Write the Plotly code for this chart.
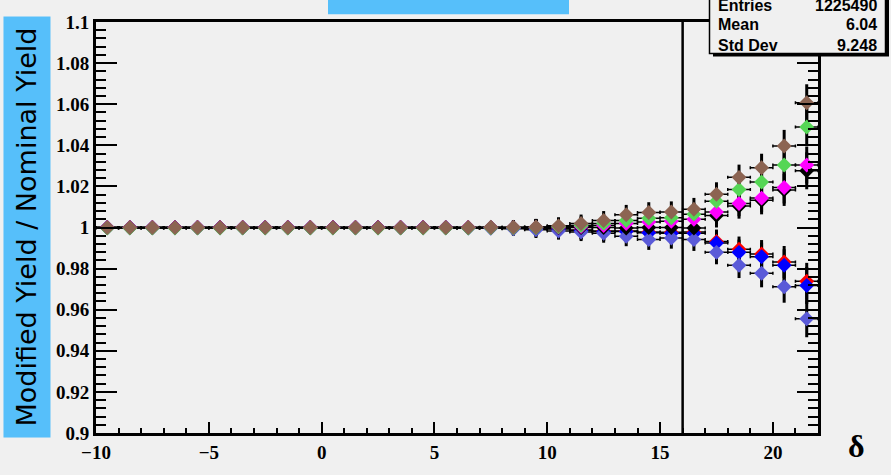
import plotly.graph_objects as go

# Bin centres of the delta histogram (unit-width bins from -10 to 22)
delta = [-9.5, -8.5, -7.5, -6.5, -5.5, -4.5, -3.5, -2.5, -1.5, -0.5,
         0.5, 1.5, 2.5, 3.5, 4.5, 5.5, 6.5, 7.5, 8.5, 9.5,
         10.5, 11.5, 12.5, 13.5, 14.5, 15.5, 16.5, 17.5, 18.5, 19.5, 20.5, 21.5]

# Modified / nominal yield ratios for each variation
ratio_red = [1.0000, 1.0000, 1.0000, 1.0000, 1.0000, 1.0000, 1.0000, 1.0000, 1.0000, 1.0000,
             1.0000, 1.0000, 1.0000, 1.0000, 1.0000, 1.0000, 1.0000, 1.0000, 0.9999, 0.9998,
             0.9995, 0.9988, 0.9983, 0.9983, 0.9978, 0.9977, 0.9978, 0.9932, 0.9894, 0.9871, 0.9832, 0.9738]
ratio_blue = [1.0000, 1.0000, 1.0000, 1.0000, 1.0000, 1.0000, 1.0000, 1.0000, 1.0000, 1.0000,
              1.0000, 1.0000, 1.0000, 1.0000, 1.0000, 1.0000, 0.9999, 0.9999, 0.9998, 0.9997,
              0.9993, 0.9985, 0.9980, 0.9980, 0.9974, 0.9972, 0.9972, 0.9925, 0.9879, 0.9858, 0.9816, 0.9718]
ratio_slate = [0.9999, 0.9999, 0.9999, 0.9999, 0.9999, 0.9999, 0.9999, 0.9999, 0.9999, 0.9999,
               0.9999, 0.9999, 0.9999, 0.9999, 0.9999, 0.9999, 0.9998, 0.9996, 0.9994, 0.9989,
               0.9983, 0.9978, 0.9972, 0.9957, 0.9941, 0.9949, 0.9941, 0.9879, 0.9816, 0.9777, 0.9712, 0.9556]
ratio_black = [1.0000, 1.0000, 1.0000, 1.0000, 1.0000, 1.0000, 1.0000, 1.0000, 1.0000, 1.0000,
               1.0000, 1.0000, 1.0000, 1.0000, 1.0000, 1.0000, 1.0000, 1.0000, 1.0000, 1.0000,
               1.0000, 1.0000, 1.0000, 0.9998, 1.0000, 1.0000, 0.9998, 1.0058, 1.0105, 1.0132, 1.0183, 1.0276]
ratio_magenta = [1.0000, 1.0000, 1.0000, 1.0000, 1.0000, 1.0000, 1.0000, 1.0000, 1.0000, 1.0000,
                 1.0000, 1.0000, 1.0000, 1.0000, 1.0000, 1.0000, 1.0000, 1.0000, 1.0000, 1.0001,
                 1.0002, 1.0005, 1.0010, 1.0019, 1.0027, 1.0030, 1.0040, 1.0075, 1.0117, 1.0143, 1.0195, 1.0304]
ratio_green = [0.9997, 0.9997, 0.9997, 0.9997, 0.9997, 0.9997, 0.9997, 0.9997, 0.9997, 0.9997,
               0.9997, 0.9997, 0.9997, 0.9997, 0.9997, 0.9998, 0.9998, 0.9999, 0.9999, 1.0000,
               1.0004, 1.0010, 1.0020, 1.0034, 1.0045, 1.0047, 1.0065, 1.0128, 1.0185, 1.0221, 1.0304, 1.0489]
ratio_brown = [1.0000, 1.0000, 1.0000, 1.0000, 1.0000, 1.0000, 1.0000, 1.0000, 1.0000, 1.0000,
               1.0000, 1.0000, 1.0000, 1.0000, 1.0000, 1.0000, 1.0000, 1.0001, 1.0001, 1.0002,
               1.0008, 1.0019, 1.0034, 1.0062, 1.0073, 1.0075, 1.0089, 1.0162, 1.0244, 1.0291, 1.0397, 1.0607]

# Statistical uncertainty of the ratio per bin
ratio_err = [0.0010, 0.0010, 0.0010, 0.0010, 0.0010, 0.0010, 0.0010, 0.0010, 0.0010, 0.0010,
             0.0012, 0.0013, 0.0014, 0.0016, 0.0018, 0.0020, 0.0024, 0.0028, 0.0034, 0.0040,
             0.0042, 0.0044, 0.0046, 0.0048, 0.0050, 0.0052, 0.0055, 0.0058, 0.0062, 0.0068, 0.0078, 0.0090]

bin_half_width = 0.5
cut_value = 16

# Summary statistics of the underlying delta distribution
stat_names = ["Entries", "Mean", "Std Dev"]
stat_values = ["1225490", "6.04", "9.248"]

series = [
    (ratio_red, "#ff0000"),
    (ratio_blue, "#0000ff"),
    (ratio_slate, "#5a5ad8"),
    (ratio_black, "#000000"),
    (ratio_magenta, "#ff00ff"),
    (ratio_green, "#55d655"),
    (ratio_brown, "#8c6452"),
]

BG = "#f0f0f0"
BLUE_BOX = "#56bffa"

fig = go.Figure()

# Error bars first so every marker sits on top of them
for values, _ in series:
    fig.add_trace(go.Scatter(
        x=delta, y=values, mode="markers",
        marker=dict(size=1, color="rgba(0,0,0,0)"),
        error_y=dict(type="data", array=ratio_err, color="black", thickness=3, width=0),
        error_x=dict(type="constant", value=bin_half_width, color="black", thickness=1.5, width=1.5),
        showlegend=False, hoverinfo="skip",
    ))

for values, color in series:
    fig.add_trace(go.Scatter(
        x=delta, y=values, mode="markers",
        marker=dict(symbol="diamond", size=11.5, color=color, line=dict(width=0)),
        showlegend=False,
    ))

axis_font = dict(family="Liberation Serif", size=19, color="black", weight="bold")

fig.update_xaxes(
    range=[-10, 22], tick0=-10, dtick=5,
    ticks="inside", ticklen=11, tickwidth=2, tickcolor="black",
    minor=dict(ticks="inside", ticklen=5, tickwidth=2, tickcolor="black", dtick=1, showgrid=False),
    showline=True, linewidth=3, linecolor="black", mirror=True,
    showgrid=False, zeroline=False, tickfont=axis_font,
)
fig.update_yaxes(
    range=[0.9, 1.1], tick0=0.9, dtick=0.02,
    ticks="inside", ticklen=21, tickwidth=2, tickcolor="black",
    minor=dict(ticks="inside", ticklen=10, tickwidth=2, tickcolor="black", dtick=0.004, showgrid=False),
    showline=True, linewidth=3, linecolor="black", mirror="ticks",
    showgrid=False, zeroline=False, tickfont=axis_font,
)

L, R, T, B = 96, 73, 15, 31
W, H = 891, 475
PW, PH = W - L - R, H - T - B


def px(xp):
    return (xp - L) / PW


def py(yp):
    return (H - B - yp) / PH


shapes = [
    # cut position
    dict(type="line", xref="x", yref="paper", x0=cut_value, x1=cut_value, y0=0, y1=1,
         line=dict(color="black", width=2.5), layer="below"),
    # title box (top, partly outside the canvas)
    dict(type="rect", xref="paper", yref="paper", x0=px(328), x1=px(569), y0=py(7), y1=py(-20),
         fillcolor=BLUE_BOX, line=dict(width=0)),
    # stats box shadow and frame
    dict(type="rect", xref="paper", yref="paper", x0=px(713), x1=px(889), y0=py(51), y1=py(-20),
         fillcolor="black", line=dict(width=0)),
    dict(type="rect", xref="paper", yref="paper", x0=px(709.5), x1=px(885.5), y0=py(48), y1=py(-20),
         fillcolor=BG, line=dict(color="black", width=1.5)),
]

annotations = [
    dict(text="Modified Yield / Nominal Yield", xref="paper", yref="paper",
         x=px(27), y=py(229), xanchor="center", yanchor="middle", textangle=-90,
         showarrow=False, bgcolor=BLUE_BOX, width=418, height=44,
         font=dict(family="DejaVu Sans", size=27, color="black")),
    dict(text="δ", xref="paper", yref="paper", x=px(856), y=py(458),
         xanchor="center", yanchor="middle", showarrow=False,
         font=dict(family="Liberation Serif", size=32, color="black", weight="bold")),
]

stat_rows_y = [-2, 18, 39.5]
for name, value, yy in zip(stat_names, stat_values, stat_rows_y):
    annotations.append(dict(text=name, xref="paper", yref="paper", x=px(716), y=py(yy),
                            xanchor="left", yanchor="middle", showarrow=False,
                            font=dict(family="Liberation Sans", size=16, color="black", weight="bold")))
    annotations.append(dict(text=value, xref="paper", yref="paper", x=px(879), y=py(yy),
                            xanchor="right", yanchor="middle", showarrow=False,
                            font=dict(family="Liberation Sans", size=16, color="black", weight="bold")))

fig.update_layout(
    width=W, height=H,
    margin=dict(l=L, r=R, t=T, b=B, pad=0),
    paper_bgcolor=BG, plot_bgcolor=BG,
    shapes=shapes, annotations=annotations,
    showlegend=False,
)

fig.write_html("out.html")
